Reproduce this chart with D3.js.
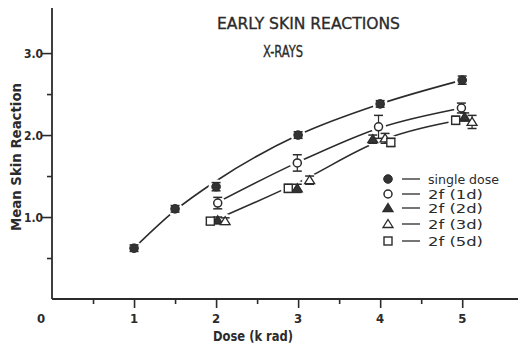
<!DOCTYPE html>
<html>
<head>
<meta charset="utf-8">
<script src="https://cdn.jsdelivr.net/npm/d3@7"></script>
<style>
  html, body { margin: 0; padding: 0; background: #fff; }
  svg { display: block; }
  text { font-family: "Liberation Sans Narrow", "DejaVu Sans Condensed", "Arial Narrow", sans-serif; fill: #2b2b2b; }
</style>
</head>
<body>
<svg id="chart" width="520" height="345"></svg>
<script>
// Mean skin reaction vs dose, X-rays
const singleDose = [1, 1.5, 2, 3, 4, 5];
const singleVal  = [0.62, 1.10, 1.37, 2.00, 2.38, 2.67];
const singleErr  = [0.04, 0.04, 0.05, 0.04, 0.04, 0.05];

const f1dDose = [2.02, 2.99, 3.98, 4.99];
const f1dVal  = [1.17, 1.66, 2.10, 2.33];
const f1dErr  = [0.07, 0.10, 0.14, 0.06];

const f2dDose = [2.02, 2.99, 3.91, 5.03];
const f2dVal  = [0.96, 1.35, 1.95, 2.22];
const f2dErr  = [0.04, 0.05, 0.05, 0.05];

const f3dDose = [2.11, 3.14, 4.06, 5.12];
const f3dVal  = [0.95, 1.45, 1.96, 2.16];
const f3dErr  = [0.04, 0.05, 0.06, 0.08];

const f5dDose = [1.93, 2.88, 4.13, 4.92];
const f5dVal  = [0.95, 1.35, 1.91, 2.18];
const f5dErr  = [0.04, 0.05, 0.05, 0.05];

// fitted curves
const fitTopDose = [1, 1.5, 2, 3, 4, 5];
const fitTopVal  = [0.62, 1.08, 1.44, 2.00, 2.38, 2.67];
const fitMidDose = [2, 3, 4, 5];
const fitMidVal  = [1.17, 1.67, 2.09, 2.33];
const fitLowDose = [2, 3, 4, 5];
const fitLowVal  = [0.97, 1.42, 1.93, 2.19];

const xTicksMajor = [0, 1, 2, 3, 4, 5];
const xTicksMinor = [0.5, 1.5, 2.5, 3.5, 4.5];
const yTicksMajor = [1, 2, 3];
const yTicksMinor = [0.5, 1.5, 2.5];

const legendLabels = ["single  dose", "2f  (1d)", "2f  (2d)", "2f  (3d)", "2f  (5d)"];

const ink = "#2b2b2b";
const svg = d3.select("#chart");
const g = svg.append("g");

const x = d3.scaleLinear().domain([0, 5.68]).range([52, 518]);
const y = d3.scaleLinear().domain([0, 3.55]).range([299, 8]);

// axes
const xAxisMajor = d3.axisBottom(x).tickValues(xTicksMajor.slice(1)).tickSize(9).tickFormat("");
const xAxisMinor = d3.axisBottom(x).tickValues(xTicksMinor).tickSize(5).tickFormat("");
const yAxisMajor = d3.axisLeft(y).tickValues(yTicksMajor).tickSize(10).tickFormat("");
const yAxisMinor = d3.axisLeft(y).tickValues(yTicksMinor).tickSize(5).tickFormat("");

[xAxisMajor, xAxisMinor].forEach(a => {
  const ax = g.append("g").attr("transform", `translate(0,${y(0)})`).call(a);
  ax.selectAll("path,line").attr("stroke", ink).attr("stroke-width", 1.6);
});
[yAxisMajor, yAxisMinor].forEach(a => {
  const ax = g.append("g").attr("transform", `translate(${x(0)},0)`).call(a);
  ax.selectAll("path,line").attr("stroke", ink).attr("stroke-width", 1.6);
});
g.selectAll(".domain").attr("d", null);
g.append("line").attr("x1", x(0)).attr("x2", x(0)).attr("y1", y(3.55)).attr("y2", y(0))
  .attr("stroke", ink).attr("stroke-width", 1.8);
g.append("line").attr("x1", x(0)).attr("x2", x(5.68)).attr("y1", y(0)).attr("y2", y(0))
  .attr("stroke", ink).attr("stroke-width", 1.8);

// tick labels
g.selectAll(".xl").data(xTicksMajor).enter().append("text")
  .attr("x", d => d === 0 ? x(d) - 11 : x(d))
  .attr("y", 323).attr("text-anchor", "middle")
  .attr("font-size", 13).attr("font-weight", "bold").text(d => d);
g.selectAll(".yl").data(yTicksMajor).enter().append("text")
  .attr("x", 43).attr("y", d => y(d) + 5).attr("text-anchor", "end")
  .attr("font-size", 12).attr("font-weight", "bold").text(d => d.toFixed(1));

// axis titles
g.append("text").attr("x", 253).attr("y", 341).attr("text-anchor", "middle")
  .attr("font-size", 14).attr("font-weight", "bold")
  .attr("textLength", 80).attr("lengthAdjust", "spacingAndGlyphs").text("Dose  (k rad)");
g.append("text").attr("transform", "translate(21,157) rotate(-90)").attr("text-anchor", "middle")
  .attr("font-size", 14).attr("font-weight", "bold")
  .attr("textLength", 148).attr("lengthAdjust", "spacingAndGlyphs").text("Mean  Skin  Reaction");

// title
g.append("text").attr("x", 217).attr("y", 29).attr("font-size", 15)
  .attr("stroke", ink).attr("stroke-width", 0.3)
  .attr("textLength", 183).attr("lengthAdjust", "spacingAndGlyphs").text("EARLY  SKIN  REACTIONS");
g.append("text").attr("x", 263).attr("y", 57).attr("font-size", 15)
  .attr("stroke", ink).attr("stroke-width", 0.3)
  .attr("textLength", 40).attr("lengthAdjust", "spacingAndGlyphs").text("X-RAYS");

// fitted curves
const line = d3.line().x(d => x(d[0])).y(d => y(d[1])).curve(d3.curveMonotoneX);
[[fitTopDose, fitTopVal], [fitMidDose, fitMidVal], [fitLowDose, fitLowVal]].forEach(([ds, vs]) => {
  g.append("path").datum(d3.zip(ds, vs)).attr("d", line)
    .attr("fill", "none").attr("stroke", ink).attr("stroke-width", 1.6);
});

// series definitions
const series = [
  { dose: singleDose, val: singleVal, err: singleErr, shape: "dotFill" },
  { dose: f1dDose, val: f1dVal, err: f1dErr, shape: "dotOpen" },
  { dose: f2dDose, val: f2dVal, err: f2dErr, shape: "triFill" },
  { dose: f3dDose, val: f3dVal, err: f3dErr, shape: "triOpen" },
  { dose: f5dDose, val: f5dVal, err: f5dErr, shape: "square" }
];

function drawMarker(sel, shape, cx, cy) {
  if (shape === "dotFill") {
    sel.append("circle").attr("cx", cx).attr("cy", cy).attr("r", 4.3).attr("fill", "#333").attr("stroke", ink);
  } else if (shape === "dotOpen") {
    sel.append("circle").attr("cx", cx).attr("cy", cy).attr("r", 4).attr("fill", "#fff")
      .attr("stroke", ink).attr("stroke-width", 1.5);
  } else if (shape === "triFill" || shape === "triOpen") {
    const p = `M${cx},${cy - 4.5}L${cx + 5},${cy + 3.5}L${cx - 5},${cy + 3.5}Z`;
    sel.append("path").attr("d", p).attr("fill", shape === "triFill" ? "#333" : "#fff")
      .attr("stroke", ink).attr("stroke-width", 1.3);
  } else {
    sel.append("rect").attr("x", cx - 4).attr("y", cy - 4).attr("width", 8).attr("height", 8)
      .attr("fill", "#fff").attr("stroke", ink).attr("stroke-width", 1.4);
  }
}

// gaps in the curves around the points
series.forEach(s => {
  s.dose.forEach((d, i) => {
    g.append("circle").attr("cx", x(d)).attr("cy", y(s.val[i])).attr("r", 7.5).attr("fill", "#fff");
  });
});

// error bars and markers
series.forEach(s => {
  s.dose.forEach((d, i) => {
    const cx = x(d), lo = y(s.val[i] - s.err[i]), hi = y(s.val[i] + s.err[i]);
    g.append("line").attr("x1", cx).attr("x2", cx).attr("y1", lo).attr("y2", hi)
      .attr("stroke", ink).attr("stroke-width", 1.2);
    [lo, hi].forEach(yy => g.append("line").attr("x1", cx - 4.5).attr("x2", cx + 4.5)
      .attr("y1", yy).attr("y2", yy).attr("stroke", ink).attr("stroke-width", 1.5));
    drawMarker(g, s.shape, cx, y(s.val[i]));
  });
});

// legend
const legendY = [179, 194, 208, 224, 241];
series.forEach((s, i) => {
  const ly = legendY[i];
  drawMarker(g, s.shape, 388, ly);
  g.append("line").attr("x1", 402).attr("x2", 420).attr("y1", ly).attr("y2", ly)
    .attr("stroke", ink).attr("stroke-width", 1.3);
  const len = i === 0 ? 71 : 55;
  g.append("text").attr("x", 428).attr("y", ly + 4.5).attr("font-size", 12)
    .attr("textLength", len).attr("lengthAdjust", "spacingAndGlyphs").text(legendLabels[i]);
});
</script>
</body>
</html>
